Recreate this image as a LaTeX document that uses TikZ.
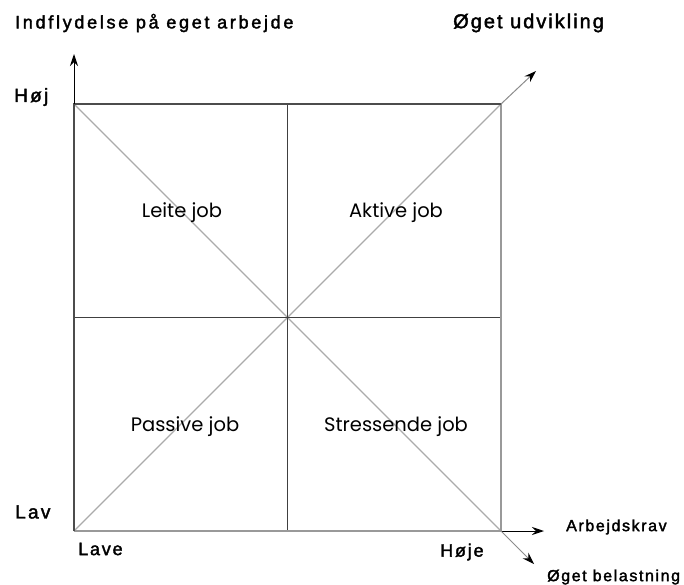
\documentclass[tikz,border=0pt]{standalone}
\usepackage{fontspec}
\setmainfont{Liberation Sans}
\newfontfamily\quadfont{Poppins}
\usetikzlibrary{arrows.meta}
\tikzset{
  axislabel/.style={inner sep=0pt, font=\fontsize{18}{21}\selectfont\addfontfeature{LetterSpace=10,FakeBold=2}},
  smalllabel/.style={inner sep=0pt, font=\fontsize{16}{19}\selectfont\addfontfeature{LetterSpace=10,FakeBold=2}},
  quadlabel/.style={inner sep=0pt, font=\quadfont\fontsize{19.5}{23}\selectfont},
  darkedge/.style={draw=black!70, line width=2pt},
  lightedge/.style={draw=black!40, line width=2.6pt},
  crossline/.style={draw=black!75, line width=1.8pt},
  diagline/.style={draw=black!33, line width=1.3pt},
  axisarrow/.style={draw=black, line width=1pt, -{Stealth[length=12pt,width=8pt,inset=4pt,black]}},
  diagarrow/.style={draw=black!45, line width=1pt, -{Stealth[length=12pt,width=8pt,inset=4pt,black]}}
}
\begin{document}
\begin{tikzpicture}[x=1pt,y=-1pt]
\useasboundingbox (0,0) rectangle (684,585);
% corners
\coordinate (BL) at (74,531);
\coordinate (TL) at (74,104);
\coordinate (TR) at (501,104);
\coordinate (BR) at (501,531);
\coordinate (TM) at (287.5,104);
\coordinate (BM) at (287.5,531);
\coordinate (LM) at (74,317.5);
\coordinate (RM) at (501,317.5);
\coordinate (Ytip) at (74,54);
\coordinate (Xtip) at (544,531);
\coordinate (UDtip) at (536,71);
\coordinate (BEtip) at (534,564);
% diagonals
\draw[diagline] (BL) -- (TR);
\draw[diagline] (TL) -- (BR);
% cross
\draw[crossline] (TM) -- (BM);
\draw[crossline] (LM) -- (RM);
% frame
\draw[lightedge] (TR) -- (BR) -- (BL);
\draw[darkedge] (BL) -- (TL) -- (TR);
% arrows
\draw[axisarrow] (TL) -- (Ytip);
\draw[axisarrow] (BR) -- (Xtip);
\draw[diagarrow] (TR) -- (UDtip);
\draw[diagarrow] (BR) -- (BEtip);
% labels
\node[axislabel, anchor=west, font=\fontsize{18}{21}\selectfont\addfontfeature{LetterSpace=15,FakeBold=2}] (ylab) at (15,23) {Indflydelse på eget arbejde};
\node[axislabel, anchor=west, font=\fontsize{20}{23}\selectfont\addfontfeature{LetterSpace=10,FakeBold=2}] (udv) at (453,23) {Øget udvikling};
\node[axislabel, anchor=west, font=\fontsize{19}{22}\selectfont\addfontfeature{LetterSpace=12,FakeBold=2}] (hoj) at (14,97) {Høj};
\node[axislabel, anchor=west, font=\fontsize{19}{22}\selectfont\addfontfeature{LetterSpace=12,FakeBold=2}] (lav) at (15,512) {Lav};
\node[axislabel, anchor=west] (lave) at (78,549) {Lave};
\node[axislabel, anchor=west] (hoje) at (440,552) {Høje};
\node[smalllabel, anchor=west] (krav) at (566,527) {Arbejdskrav};
\node[smalllabel, anchor=west] (bel) at (547,577) {Øget belastning};
\node[quadlabel] (q1) at (182,213) {Leite job};
\node[quadlabel] (q2) at (396,213) {Aktive job};
\node[quadlabel] (q3) at (185,427) {Passive job};
\node[quadlabel] (q4) at (396,427) {Stressende job};
\end{tikzpicture}
\end{document}
